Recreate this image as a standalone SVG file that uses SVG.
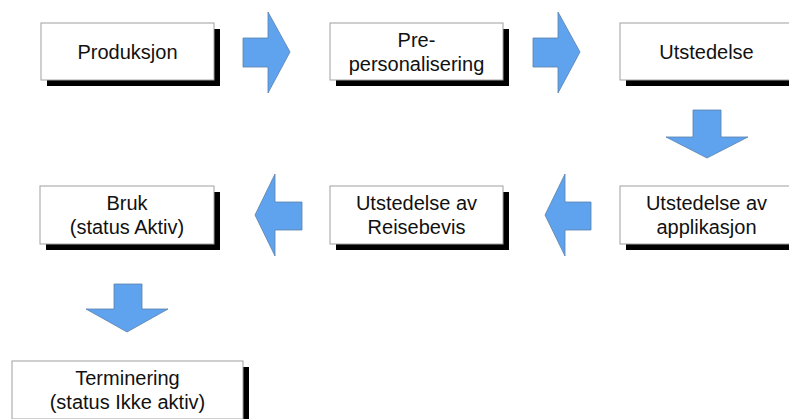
<svg xmlns="http://www.w3.org/2000/svg" width="789" height="419" viewBox="0 0 789 419">
<style>
.shadow{fill:#000}
.box{fill:#fff;stroke:#a0a0a0;stroke-width:1}
.lbl{font-family:"Liberation Sans",Arial,sans-serif;font-size:20px;fill:#111;text-anchor:middle}
.arr{fill:#5fa3ef;stroke:#5b80aa;stroke-width:0.8}
</style>
<rect width="789" height="419" fill="#fff"/>
<g id="connectors">
<polygon class="arr" points="243,38 268,38 268,12 290,52 268,93 268,67 243,67"/>
<polygon class="arr" points="533,38 558,38 558,12 580,52 558,93 558,67 533,67"/>
<polygon class="arr" points="693,110 721,110 721,137 748,137 707,158 666,137 693,137"/>
<polygon class="arr" points="591,202 565,202 565,174 545,215 565,256 565,230 591,230"/>
<polygon class="arr" points="302,202 275,202 275,174 255,215 275,256 275,230 302,230"/>
<polygon class="arr" points="114,284 142,284 142,309 168,309 127,332 86,309 114,309"/>
</g>
<g id="n1">
<rect class="shadow" x="47" y="29" width="173" height="57"/>
<rect class="box" x="41" y="23" width="173" height="57"/>
<text class="lbl" x="127.5" y="58.5">Produksjon</text>
</g>
<g id="n2">
<rect class="shadow" x="336" y="29" width="173" height="57"/>
<rect class="box" x="330" y="23" width="173" height="57"/>
<text class="lbl" x="416.5" y="46.5">Pre-</text>
<text class="lbl" x="416.5" y="70.5">personalisering</text>
</g>
<g id="n3">
<rect class="shadow" x="626" y="29" width="173" height="57"/>
<rect class="box" x="620" y="23" width="173" height="57"/>
<text class="lbl" x="706.5" y="58.5">Utstedelse</text>
</g>
<g id="n4">
<rect class="shadow" x="626" y="192" width="173" height="58"/>
<rect class="box" x="620" y="186" width="173" height="58"/>
<text class="lbl" x="706.5" y="210">Utstedelse av</text>
<text class="lbl" x="706.5" y="234">applikasjon</text>
</g>
<g id="n5">
<rect class="shadow" x="336" y="192" width="173" height="58"/>
<rect class="box" x="330" y="186" width="173" height="58"/>
<text class="lbl" x="416.5" y="210">Utstedelse av</text>
<text class="lbl" x="416.5" y="234">Reisebevis</text>
</g>
<g id="n6">
<rect class="shadow" x="46" y="192" width="174" height="58"/>
<rect class="box" x="40" y="186" width="174" height="58"/>
<text class="lbl" x="127" y="210">Bruk</text>
<text class="lbl" x="127" y="234">(status Aktiv)</text>
</g>
<g id="n7">
<rect class="shadow" x="18" y="367" width="231" height="58"/>
<rect class="box" x="12" y="361" width="231" height="58"/>
<text class="lbl" x="127.5" y="385">Terminering</text>
<text class="lbl" x="127.5" y="409">(status Ikke aktiv)</text>
</g>
</svg>
